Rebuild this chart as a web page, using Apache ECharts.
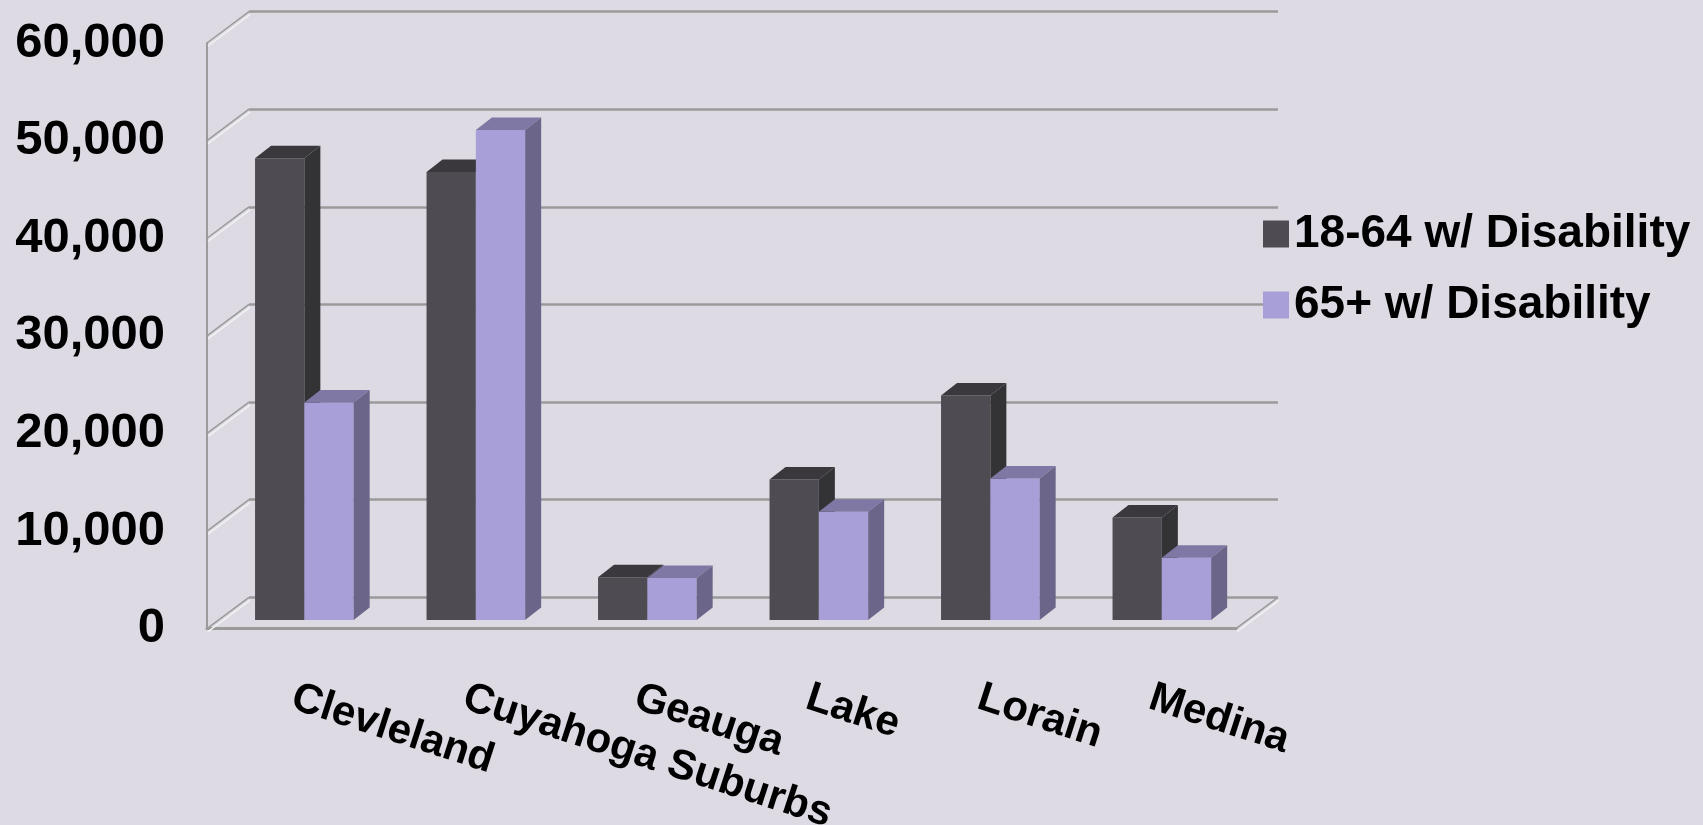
<!DOCTYPE html>
<html>
<head>
  <meta charset="utf-8">
  <title>Disability by county</title>
  <script src="https://cdn.jsdelivr.net/npm/echarts@6/dist/echarts.min.js"></script>
  <style>
    html, body { margin: 0; padding: 0; background: #dddae3; }
    #chart { width: 1703px; height: 825px; }
  </style>
</head>
<body>
  <div id="chart"></div>
  <script>
    // values
    var counties = ['Clevleland', 'Cuyahoga Suburbs', 'Geauga', 'Lake', 'Lorain', 'Medina'];
    var adults = [47300, 45900, 4400, 14400, 23000, 10500];   // 18-64 w/ Disability
    var seniors = [22300, 50200, 4300, 11100, 14500, 6400];   // 65+ w/ Disability
    var seriesNames = ['18-64 w/ Disability', '65+ w/ Disability'];
    var yTicks = [0, 10000, 20000, 30000, 40000, 50000, 60000];
    var yTickLabels = ['0', '10,000', '20,000', '30,000', '40,000', '50,000', '60,000'];

    // fake 3d box: front plane, bar plane and back wall
    var PLOT_W = 1029, PLOT_H = 585.7;
    var WALL_DX = 42, WALL_DY = -31.4;   // depth of the floor
    var BAR_DX = 16, BAR_DY = -12.5;     // depth of one bar
    var BAR_SHARE = 0.2875;              // bar width / category band
    var FONT = '"Liberation Sans", Arial, sans-serif';
    var LINE = '#9a9a9a';

    function barRenderer(slot, face, top, side) {
      return function (params, api) {
        var base = api.coord([api.value(0), 0]);
        var peak = api.coord([api.value(0), api.value(1)]);
        var w = api.size([1, 0])[0] * BAR_SHARE;
        var x0 = base[0] - w + slot * w;
        var yb = base[1], yt = peak[1];
        return {
          type: 'group',
          children: [
            { type: 'rect', shape: { x: x0, y: yt, width: w, height: yb - yt }, style: { fill: face } },
            { type: 'polygon', shape: { points: [[x0, yt], [x0 + w, yt], [x0 + w + BAR_DX, yt + BAR_DY], [x0 + BAR_DX, yt + BAR_DY]] }, style: { fill: top } },
            { type: 'polygon', shape: { points: [[x0 + w, yt], [x0 + w + BAR_DX, yt + BAR_DY], [x0 + w + BAR_DX, yb + BAR_DY], [x0 + w, yb]] }, style: { fill: side } }
          ]
        };
      };
    }

    // diagonal edges on the left wall (and right floor edge)
    function wallRenderer(params, api) {
      var y = api.coord([0, api.value(1)])[1];
      var cs = params.coordSys;
      var kids = [];
      var xs = [cs.x];
      if (api.value(1) === 0) xs.push(cs.x + cs.width);
      xs.forEach(function (x) {
        kids.push({ type: 'line', shape: { x1: x, y1: y, x2: x + WALL_DX, y2: y + WALL_DY }, style: { stroke: LINE, lineWidth: 1.5 } });
        kids.push({ type: 'line', shape: { x1: x + 1, y1: y + 3, x2: x + WALL_DX + 1, y2: y + WALL_DY + 3 }, style: { stroke: '#f2f2f2', lineWidth: 1.5 } });
      });
      return { type: 'group', children: kids };
    }

    var chart = echarts.init(document.getElementById('chart'));
    var option = {
      backgroundColor: '#dddae3',
      animation: false,
      textStyle: { fontFamily: FONT },
      legend: {
        orient: 'vertical',
        left: 1258,
        top: 206,
        icon: 'rect',
        itemWidth: 26,
        itemHeight: 27,
        itemGap: 25,
        data: seriesNames,
        textStyle: { fontSize: 46, fontWeight: 'bold', color: '#000', fontFamily: FONT, lineHeight: 46 }
      },
      grid: [
        { left: 218.6, top: 34.4, width: PLOT_W, height: PLOT_H, outerBoundsMode: 'none' },   // bar plane
        { left: 249, top: 11.6, width: PLOT_W, height: PLOT_H, outerBoundsMode: 'none' },     // back wall
        { left: 207, top: 43, width: PLOT_W, height: PLOT_H, outerBoundsMode: 'none' }        // front edge
      ],
      xAxis: [
        { gridIndex: 0, type: 'category', data: counties, show: false },
        { gridIndex: 1, type: 'category', data: counties, show: false },
        {
          gridIndex: 2, type: 'category', data: counties,
          axisLine: { lineStyle: { color: LINE, width: 3 } },
          axisTick: { show: false },
          axisLabel: { interval: 0, rotate: -18, margin: 68, fontSize: 42, fontWeight: 'bold', color: '#000', fontFamily: FONT }
        }
      ],
      yAxis: [
        { gridIndex: 0, type: 'value', min: 0, max: 60000, interval: 10000, show: false },
        {
          gridIndex: 1, type: 'value', min: 0, max: 60000, interval: 10000,
          axisLine: { show: false }, axisTick: { show: false }, axisLabel: { show: false },
          splitLine: { lineStyle: { color: LINE, width: 2.5 } }
        },
        {
          gridIndex: 2, type: 'value', min: 0, max: 60000, interval: 10000,
          axisLine: { show: true, lineStyle: { color: LINE, width: 2 } },
          axisTick: { show: false },
          splitLine: { show: false },
          axisLabel: {
            margin: 42, fontSize: 49, fontWeight: 'bold', color: '#000', fontFamily: FONT,
            formatter: function (v) { return yTickLabels[yTicks.indexOf(v)]; }
          }
        }
      ],
      series: [
        {
          type: 'custom', name: 'wall', xAxisIndex: 2, yAxisIndex: 2, silent: true,
          renderItem: wallRenderer,
          data: yTicks.map(function (v) { return [0, v]; })
        },
        {
          type: 'custom', name: seriesNames[0], xAxisIndex: 0, yAxisIndex: 0,
          itemStyle: { color: '#4e4c52' },
          renderItem: barRenderer(0, '#4e4c52', '#3a383d', '#333234'),
          encode: { x: 0, y: 1 },
          data: adults.map(function (v, i) { return [i, v]; })
        },
        {
          type: 'custom', name: seriesNames[1], xAxisIndex: 0, yAxisIndex: 0,
          itemStyle: { color: '#a89fd8' },
          renderItem: barRenderer(1, '#a89fd8', '#7f78a4', '#6b6589'),
          encode: { x: 0, y: 1 },
          data: seniors.map(function (v, i) { return [i, v]; })
        }
      ]
    };
    chart.setOption(option);
  </script>
</body>
</html>
